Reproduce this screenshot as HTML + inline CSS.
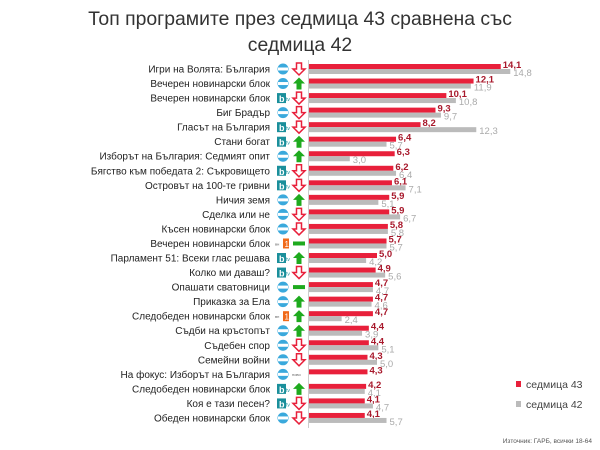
<!DOCTYPE html>
<html><head><meta charset="utf-8"><style>
body{margin:0;background:#fff}
svg{display:block;font-family:"Liberation Sans",sans-serif}
</style></head><body>
<svg width="600" height="450" xmlns="http://www.w3.org/2000/svg">
<text x="300" y="25" font-size="19.4" text-anchor="middle" fill="#333">Топ програмите през седмица 43 сравнена със</text>
<text x="300" y="51" font-size="19.4" text-anchor="middle" fill="#333">седмица 42</text>
<line x1="308.5" y1="60" x2="308.5" y2="428" stroke="#ccc"/>
<g id="rows"></g>
<rect x="516" y="381" width="5" height="6" fill="#e8203b"/>
<text x="526" y="388" font-size="10.5" fill="#444">седмица 43</text>
<rect x="516" y="401" width="5" height="6" fill="#bbb"/>
<text x="526" y="408" font-size="10.5" fill="#444">седмица 42</text>
<text x="592" y="443" font-size="6.5" text-anchor="end" fill="#555">Източник: ГАРБ, всички 18-64</text>
</svg>
<script>
const d=[
["Игри на Волята: България","n","d",14.1,14.8],
["Вечерен новинарски блок","n","u",12.1,11.9],
["Вечерен новинарски блок","b","d",10.1,10.8],
["Биг Брадър","n","d",9.3,9.7],
["Гласът на България","b","d",8.2,12.3],
["Стани богат","b","u",6.4,5.7],
["Изборът на България: Седмият опит","n","u",6.3,3.0],
["Бягство към победата 2: Съкровището","b","d",6.2,6.4],
["Островът на 100-те гривни","b","d",6.1,7.1],
["Ничия земя","n","u",5.9,5.1],
["Сделка или не","n","d",5.9,6.7],
["Късен новинарски блок","n","d",5.8,5.8],
["Вечерен новинарски блок","1","e",5.7,5.7],
["Парламент 51: Всеки глас решава","b","u",5.0,4.2],
["Колко ми даваш?","b","d",4.9,5.6],
["Опашати сватовници","n","e",4.7,4.7],
["Приказка за Ела","n","u",4.7,4.6],
["Следобеден новинарски блок","1","u",4.7,2.4],
["Съдби на кръстопът","n","u",4.4,3.9],
["Съдебен спор","n","d",4.4,5.1],
["Семейни войни","n","d",4.3,5.0],
["На фокус: Изборът на България","n","new",4.3,null],
["Следобеден новинарски блок","b","u",4.2,4.1],
["Коя е тази песен?","b","d",4.1,4.7],
["Обеден новинарски блок","n","d",4.1,5.7]];
let s="";const k=13.6,x0=309;
const f=v=>v.toFixed(1).replace(".",",");
d.forEach((r,i)=>{const c=69+i*14.54;
s+=`<text x="270" y="${c+3.5}" font-size="10" text-anchor="end" fill="#222">${r[0]}</text>`;
if(r[1]=="n")s+=`<circle cx="283" cy="${c}" r="5.5" fill="#3aa9dc"/><rect x="278" y="${c-1.5}" width="10" height="3" fill="#fff"/>`;
else if(r[1]=="b")s+=`<rect x="277" y="${c-5}" width="9" height="10" fill="#1a8f9b"/><text x="279" y="${c+4}" font-size="9" font-weight="bold" fill="#fff">b</text><text x="286" y="${c+3}" font-size="5" fill="#1a8f9b">tv</text>`;
else s+=`<text x="275" y="${c+2}" font-size="4" fill="#666">вн</text><rect x="283" y="${c-5}" width="6" height="10" fill="#f06a1a"/><text x="284.5" y="${c+3.5}" font-size="8" fill="#fff">1</text>`;
if(r[2]=="u")s+=`<polygon points="299,${c-6} 305,${c} 301.5,${c} 301.5,${c+6} 296.5,${c+6} 296.5,${c} 293,${c}" fill="#1eaa1e"/>`;
else if(r[2]=="d")s+=`<polygon points="299,${c+6} 305,${c} 301.5,${c} 301.5,${c-6} 296.5,${c-6} 296.5,${c} 293,${c}" fill="#fff" stroke="#e8203b" stroke-width="1.5"/>`;
else if(r[2]=="e")s+=`<rect x="293" y="${c-2}" width="12" height="4" fill="#1eaa1e"/>`;
else s+=`<text x="292" y="${c+1.5}" font-size="4" fill="#666">ново</text>`;
const w1=r[3]*k;s+=`<rect x="${x0}" y="${c-5}" width="${w1}" height="5" fill="#e8203b"/>`;
s+=`<text x="${x0+w1+2}" y="${c-1}" font-size="9.5" font-weight="bold" fill="#a8192c">${f(r[3])}</text>`;
if(r[4]!=null){const w2=r[4]*k;s+=`<rect x="${x0}" y="${c}" width="${w2}" height="5" fill="#bbb"/>`;
s+=`<text x="${x0+w2+3}" y="${c+7}" font-size="9.5" fill="#aaa">${f(r[4])}</text>`;}
});
document.getElementById("rows").innerHTML=s;
</script>
</body></html>
